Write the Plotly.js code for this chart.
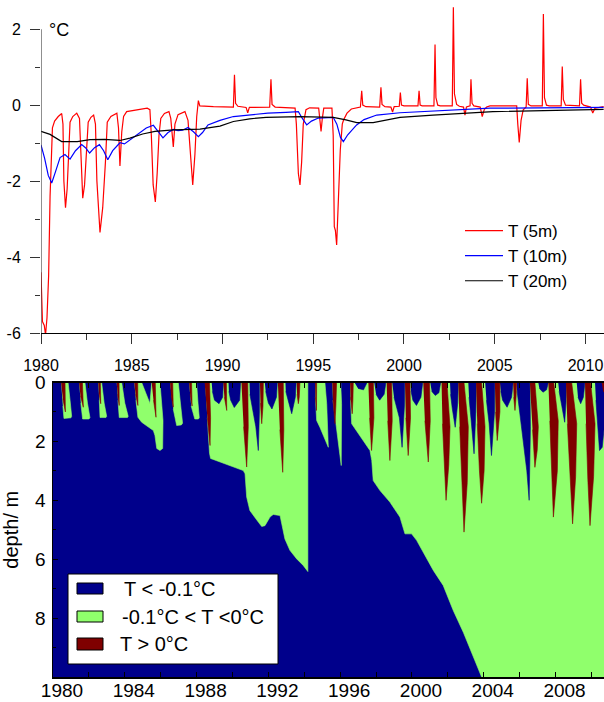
<!DOCTYPE html>
<html>
<head>
<meta charset="utf-8">
<script src="https://cdn.plot.ly/plotly-3.0.1.min.js"></script>
<style>html,body{margin:0;padding:0;background:#fff;}#chart{width:604px;height:702px;}</style>
</head>
<body>
<div id="chart"></div>
<script>
// ---------- top panel: temperature series (year, °C) ----------
const t5m = [
[1980.0,-4.4],[1980.08,-5.7],[1980.18,-5.8],[1980.25,-6.05],[1980.33,-5.6],[1980.42,-4.5],[1980.5,-2.4],[1980.57,-1.2],[1980.63,-0.6],[1980.75,-0.42],[1980.95,-0.3],[1981.14,-0.22],[1981.21,-0.5],[1981.26,-2.0],[1981.35,-2.7],[1981.44,-2.2],[1981.52,-1.2],[1981.6,-0.45],[1981.75,-0.3],[1981.97,-0.21],[1982.12,-0.35],[1982.2,-1.5],[1982.3,-2.45],[1982.4,-2.1],[1982.5,-1.2],[1982.6,-0.45],[1982.75,-0.32],[1982.9,-0.26],[1983.0,-0.5],[1983.08,-2.0],[1983.25,-3.35],[1983.4,-2.7],[1983.55,-1.5],[1983.65,-0.45],[1983.85,-0.3],[1984.18,-0.21],[1984.27,-0.6],[1984.35,-1.6],[1984.45,-0.7],[1984.55,-0.3],[1984.72,-0.17],[1985.3,-0.12],[1985.85,-0.08],[1986.0,-0.12],[1986.08,-0.8],[1986.18,-2.1],[1986.3,-2.55],[1986.4,-1.8],[1986.5,-0.8],[1986.6,-0.35],[1986.8,-0.22],[1987.05,-0.17],[1987.15,-0.35],[1987.29,-1.1],[1987.38,-0.5],[1987.55,-0.25],[1987.93,-0.17],[1988.1,-0.4],[1988.22,-1.2],[1988.36,-2.1],[1988.48,-1.3],[1988.58,-0.3],[1988.67,0.12],[1988.75,-0.02],[1989.5,-0.04],
[1990.6,-0.05],[1990.66,0.8],[1990.72,0.05],[1990.85,-0.03],[1991.3,-0.06],[1991.39,-0.2],[1991.48,-0.06],[1992.6,-0.05],[1992.67,0.68],[1992.73,0.02],[1992.9,-0.05],[1994.0,-0.08],[1994.07,-0.5],[1994.18,-1.8],[1994.27,-2.1],[1994.36,-1.5],[1994.45,-0.5],[1994.6,-0.12],[1994.8,-0.07],[1995.3,-0.08],[1995.38,-0.4],[1995.43,-0.69],[1995.5,-0.35],[1995.58,-0.08],[1996.03,-0.08],[1996.1,-0.8],[1996.16,-3.2],[1996.22,-3.3],[1996.29,-3.68],[1996.36,-2.6],[1996.49,-1.18],[1996.6,-0.5],[1996.67,-0.39],[1996.86,-0.21],[1997.1,-0.1],
[1997.6,-0.05],[1997.67,0.38],[1997.73,0.0],[1997.9,-0.04],[1998.66,-0.05],[1998.73,0.47],[1998.79,0.02],[1998.95,-0.04],[1999.28,-0.05],[1999.37,-0.18],[1999.46,-0.04],[1999.74,-0.03],[1999.8,0.33],[1999.86,0.0],[2000.0,-0.02],[2000.77,-0.02],[2000.83,0.38],[2000.89,0.0],[2001.0,-0.02],[2001.65,-0.02],[2001.71,1.6],[2001.76,0.2],[2001.86,0.0],[2002.0,-0.02],[2002.66,-0.02],[2002.72,2.58],[2002.78,0.3],[2002.9,0.02],[2003.05,-0.03],[2003.28,-0.05],[2003.36,-0.26],[2003.44,-0.05],[2003.64,-0.02],[2003.69,0.68],[2003.75,0.05],[2003.85,-0.02],[2004.2,-0.05],[2004.31,-0.3],[2004.42,-0.12],[2004.55,-0.05],[2004.74,-0.02],[2006.21,-0.02],[2006.27,-0.5],[2006.35,-0.98],[2006.45,-0.4],[2006.57,-0.12],[2006.73,-0.05],[2006.79,0.71],[2006.85,0.02],[2007.0,-0.02],[2007.62,-0.02],[2007.68,2.4],[2007.74,0.2],[2007.85,0.0],[2008.0,-0.02],[2008.66,-0.02],[2008.72,1.02],[2008.78,0.15],[2008.9,0.0],[2009.67,-0.02],[2009.73,0.68],[2009.79,0.05],[2009.9,0.0],[2010.28,-0.05],[2010.4,-0.21],[2010.52,-0.08],[2011.0,-0.04]
];
const t10m = [
[1980.0,-1.05],[1980.2,-1.4],[1980.4,-1.85],[1980.59,-2.05],[1980.8,-1.75],[1981.05,-1.38],[1981.32,-1.3],[1981.6,-1.42],[1981.9,-1.2],[1982.24,-1.04],[1982.45,-1.12],[1982.68,-1.26],[1982.95,-1.12],[1983.22,-1.04],[1983.45,-1.2],[1983.68,-1.44],[1983.95,-1.2],[1984.35,-0.99],[1984.6,-1.02],[1985.0,-0.88],[1985.45,-0.74],[1985.8,-0.6],[1986.19,-0.53],[1986.45,-0.7],[1986.72,-0.86],[1987.0,-0.72],[1987.29,-0.64],[1987.55,-0.67],[1987.8,-0.66],[1988.1,-0.59],[1988.4,-0.7],[1988.67,-0.83],[1988.9,-0.72],[1989.2,-0.52],[1989.86,-0.4],[1990.6,-0.3],[1991.5,-0.25],[1992.5,-0.21],[1993.5,-0.19],[1994.18,-0.17],[1994.4,-0.35],[1994.64,-0.52],[1994.9,-0.42],[1995.28,-0.34],[1996.1,-0.32],[1996.3,-0.5],[1996.5,-0.85],[1996.66,-0.96],[1996.9,-0.78],[1997.39,-0.52],[1997.8,-0.38],[1998.5,-0.26],[1999.78,-0.2],[2001.0,-0.17],[2002.5,-0.12],[2004.74,-0.08],[2011.0,-0.06]
];
const t20m = [
[1980.0,-0.69],[1980.5,-0.77],[1981.14,-0.96],[1982.0,-0.96],[1982.7,-0.91],[1983.5,-0.9],[1984.35,-0.93],[1984.9,-0.87],[1985.6,-0.76],[1986.28,-0.69],[1987.3,-0.65],[1988.76,-0.63],[1989.86,-0.55],[1990.6,-0.43],[1991.5,-0.36],[1992.4,-0.32],[1994.27,-0.3],[1996.1,-0.32],[1996.8,-0.39],[1997.4,-0.46],[1998.3,-0.46],[1999.78,-0.32],[2001.6,-0.26],[2004.9,-0.17],[2011.0,-0.11]
];
const seriesNames = ['T (5m)', 'T (10m)', 'T (20m)'];
const topTickVals = [-6, -4, -2, 0, 2];
const topTickText = ['-6', '-4', '-2', '0', '2'];
const topYearTicks = [1980, 1985, 1990, 1995, 2000, 2005, 2010];

// ---------- bottom panel: thermal zones, polygons of [year, depth m] ----------
const zoneNames = ['T < -0.1°C', '-0.1°C < T <0°C', 'T > 0°C'];
const greenZones = [
 [[1980.45,0],[1980.84,0],[1980.95,0.6],[1981.04,1.15],[1981.0,1.2],[1980.61,1.22],[1980.55,0.8]],
 [[1981.45,0],[1981.78,0],[1981.92,0.7],[1982.06,1.2],[1982.0,1.24],[1981.65,1.24],[1981.55,0.7]],
 [[1982.52,0],[1982.71,0],[1982.85,0.7],[1982.99,1.15],[1982.95,1.19],[1982.62,1.19],[1982.58,0.6]],
 [[1983.55,0],[1983.83,0],[1984.0,0.7],[1984.19,1.15],[1984.15,1.19],[1983.69,1.19],[1983.62,0.6]],
 [[1984.53,0],[1984.94,0],[1985.4,0.71],[1985.5,0],[1985.96,0],[1986.06,0.61],[1986.13,1.29],[1986.11,2.24],[1985.96,2.31],[1985.78,2.24],[1985.68,1.8],[1985.59,1.63],[1984.94,1.35],[1984.73,1.18],[1984.62,0.6]],
 [[1986.52,0],[1986.98,0],[1987.1,0.7],[1987.22,1.38],[1987.15,1.44],[1986.89,1.46],[1986.7,0.9]],
 [[1987.58,0],[1988.0,0],[1988.08,0.7],[1988.15,1.2],[1988.1,1.24],[1987.9,1.24],[1987.7,0.8]],
 [[1988.47,0],[1994.2,0],[1994.2,6.42],[1993.94,6.21],[1993.58,5.99],[1993.2,5.7],[1992.92,5.31],[1992.74,4.69],[1992.65,4.52],[1992.27,4.48],[1992.09,4.57],[1991.81,4.86],[1991.63,4.89],[1991.44,4.74],[1990.97,4.35],[1990.79,3.89],[1990.7,3.1],[1990.6,2.99],[1989.58,2.76],[1988.78,2.58],[1988.72,2.4],[1988.6,1.2]],
 [[1994.6,0],[1995.15,0],[1995.25,0.72],[1995.34,2.2],[1994.87,1.52],[1994.69,1.29],[1994.62,0.5]],
 [[1995.56,0],[1996.03,0],[1996.08,0.72],[1996.06,2.82],[1995.95,2.3],[1995.75,1.3],[1995.6,0.6]],
 [[1996.55,0],[2010.8,0],[2010.8,10.2],[2003.9,10.2],[2003.88,10],[2002.86,8.48],[2002.3,7.74],[2001.74,6.89],[2001.19,6.38],[2000.26,5.36],[1999.98,5.14],[1999.61,5.14],[1999.33,4.57],[1998.77,4.06],[1998.22,3.67],[1997.84,3.33],[1997.76,2.65],[1997.66,2.31],[1996.64,1.4],[1996.58,0.6]]
];
const coldPatches = [
 [[1988.84,0],[1989.49,0],[1989.45,0.5],[1989.25,0.72],[1989.0,0.6],[1988.88,0.3]],
 [[1989.78,0],[1990.45,0],[1990.4,0.6],[1990.1,0.85],[1989.9,0.6],[1989.8,0.3]],
 [[1990.95,0],[1991.5,0],[1991.5,1.0],[1991.44,2.31],[1991.3,1.5],[1991.1,0.9],[1990.97,0.4]],
 [[1991.8,0],[1992.5,0],[1992.45,0.5],[1992.2,0.9],[1992.0,0.7],[1991.85,0.3]],
 [[1992.95,0],[1993.55,0],[1993.5,0.5],[1993.3,1.06],[1993.1,0.6],[1992.97,0.3]],
 [[1996.8,0],[1997.5,0],[1997.3,0.25],[1997.0,0.2]],
 [[1997.9,0],[1998.55,0],[1998.45,0.4],[1998.2,0.6],[1998.0,0.4]],
 [[1998.9,0],[1999.6,0],[1999.58,0.8],[1999.45,2.2],[1999.3,1.2],[1999.0,0.5]],
 [[1999.92,0],[2000.6,0],[2000.5,0.5],[2000.25,0.78],[2000.05,0.6],[1999.95,0.3]],
 [[2001.02,0],[2001.6,0],[2001.5,0.35],[2001.3,0.44],[2001.1,0.3]],
 [[2002.12,0],[2002.58,0],[2002.55,0.7],[2002.41,1.52],[2002.25,0.9],[2002.15,0.4]],
 [[2003.14,0],[2003.58,0],[2003.56,1.0],[2003.46,2.42],[2003.3,1.3],[2003.18,0.5]],
 [[2004.08,0],[2004.62,0],[2004.6,1.0],[2004.43,2.48],[2004.3,1.4],[2004.15,0.6]],
 [[2004.9,0],[2005.64,0],[2005.55,0.5],[2005.3,0.84],[2005.05,0.6],[2004.95,0.3]],
 [[2005.83,0],[2006.57,0],[2006.6,1.5],[2006.55,3.3],[2006.53,4.0],[2006.4,3.0],[2006.2,2.0],[2005.95,0.9],[2005.86,0.3]],
 [[2007.04,0],[2007.6,0],[2007.5,0.25],[2007.3,0.33],[2007.1,0.2]],
 [[2008.15,0],[2008.6,0],[2008.58,0.7],[2008.51,1.35],[2008.35,0.8],[2008.2,0.3]],
 [[2009.18,0],[2009.64,0],[2009.55,0.5],[2009.4,0.72],[2009.25,0.5]],
 [[2010.2,0],[2010.8,0],[2010.8,1.0],[2010.6,2.2],[2010.45,2.31],[2010.35,1.5],[2010.25,0.6]]
];
const warmTongues = [
 [[1980.45,0],[1980.67,0],[1980.69,1.0],[1980.55,0.55]],
 [[1981.45,0],[1981.64,0],[1981.69,0.84],[1981.53,0.45]],
 [[1982.52,0],[1982.64,0],[1982.66,0.72],[1982.56,0.35]],
 [[1983.55,0],[1983.68,0],[1983.69,0.78],[1983.6,0.4]],
 [[1984.53,0],[1984.72,0],[1984.73,0.78],[1984.6,0.4]],
 [[1985.5,0],[1985.7,0],[1985.74,1.18],[1985.6,0.6]],
 [[1986.52,0],[1986.67,0],[1986.7,0.84],[1986.58,0.45]],
 [[1987.58,0],[1987.72,0],[1987.75,0.8],[1987.64,0.4]],
 [[1988.45,0],[1988.72,0],[1988.78,1.2],[1988.75,2.14],[1988.6,1.2]],
 [[1989.49,0],[1989.66,0],[1989.68,0.95],[1989.55,0.5]],
 [[1990.5,0],[1990.85,0],[1990.88,1.5],[1990.79,2.87],[1990.62,1.5]],
 [[1991.53,0],[1991.72,0],[1991.7,0.8],[1991.63,1.4],[1991.56,0.7]],
 [[1992.53,0],[1992.83,0],[1992.86,1.6],[1992.8,3.05],[1992.64,1.6]],
 [[1993.58,0],[1993.76,0],[1993.72,0.5],[1993.67,0.72],[1993.6,0.4]],
 [[1994.6,0],[1994.69,0],[1994.68,0.95],[1994.62,0.5]],
 [[1995.56,0],[1995.8,0],[1995.76,0.8],[1995.71,1.4],[1995.6,0.6]],
 [[1996.55,0],[1996.73,0],[1996.71,0.6],[1996.67,1.06],[1996.58,0.5]],
 [[1997.57,0],[1997.85,0],[1997.88,1.2],[1997.75,2.31],[1997.64,1.2]],
 [[1998.59,0],[1998.87,0],[1998.9,1.3],[1998.77,2.65],[1998.65,1.3]],
 [[1999.61,0],[1999.89,0],[1999.92,1.2],[1999.79,2.48],[1999.66,1.2]],
 [[2000.63,0],[2000.98,0],[2001.02,1.3],[2000.91,2.7],[2000.72,1.3]],
 [[2001.65,0],[2001.95,0],[2002.12,1.5],[2002.05,2.8],[2001.9,4.0],[2001.8,2.6],[2001.7,1.4]],
 [[2002.58,0],[2002.9,0],[2003.14,1.5],[2003.08,3.4],[2002.9,5.08],[2002.8,3.4],[2002.66,1.5]],
 [[2003.57,0],[2003.88,0],[2004.07,1.5],[2004.02,3.0],[2003.88,4.1],[2003.76,3.0],[2003.64,1.4]],
 [[2004.62,0],[2004.9,0],[2004.9,1.0],[2004.75,1.97],[2004.66,1.0]],
 [[2005.64,0],[2005.83,0],[2005.8,0.5],[2005.74,0.95],[2005.67,0.5]],
 [[2006.57,0],[2006.85,0],[2007.04,1.5],[2006.98,2.3],[2006.85,2.88],[2006.72,1.6]],
 [[2007.6,0],[2007.9,0],[2008.15,1.3],[2008.1,3.0],[2007.88,4.57],[2007.78,3.0],[2007.68,1.3]],
 [[2008.58,0],[2008.9,0],[2009.18,1.4],[2009.12,3.2],[2008.95,4.8],[2008.82,3.3],[2008.66,1.4]],
 [[2009.64,0],[2009.95,0],[2010.2,1.4],[2010.12,3.2],[2009.92,4.86],[2009.8,3.3],[2009.7,1.4]],
 [[2010.57,0],[2010.8,0],[2010.8,0.35],[2010.65,0.3]]
];
const depthTicks = [0, 2, 4, 6, 8];
const bottomYearTicks = [1980,1982,1984,1986,1988,1990,1992,1994,1996,1998,2000,2002,2004,2006,2008,2010];
const bottomYearLabels = ['1980','','1984','','1988','','1992','','1996','','2000','','2004','','2008',''];

// ---------- styling ----------
const FONT = 'Arial, "Liberation Sans", sans-serif';
const C_NAVY = '#00008b', C_GREEN = '#90ff6c', C_RED = '#7f0000';
const W = 604, H = 702, ML = 41;
const px = v => (v - ML) / (W - ML);     // pixel x -> paper x
const py = v => 1 - v / H;               // pixel y -> paper y

function polyXY(polys) {
  const x = [], y = [];
  polys.forEach((p, i) => {
    if (i) { x.push(null); y.push(null); }
    p.forEach(q => { x.push(q[0]); y.push(q[1]); });
  });
  return {x, y};
}
function lineTrace(data, name, color) {
  return {type: 'scatter', mode: 'lines', name: name,
    x: data.map(d => d[0]), y: data.map(d => d[1]),
    line: {color: color, width: 1.2}, xaxis: 'x', yaxis: 'y', hoverinfo: 'x+y'};
}
function zoneTrace(polys, name, color) {
  const xy = polyXY(polys);
  return {type: 'scatter', mode: 'lines', fill: 'toself', name: name,
    x: xy.x, y: xy.y, fillcolor: color, line: {color: color, width: 0.6},
    xaxis: 'x2', yaxis: 'y2', showlegend: false, hoverinfo: 'skip'};
}

const traces = [
  lineTrace(t5m, seriesNames[0], '#ff0000'),
  lineTrace(t10m, seriesNames[1], '#0000ff'),
  lineTrace(t20m, seriesNames[2], '#000000'),
  zoneTrace(greenZones, zoneNames[1], C_GREEN),
  zoneTrace(coldPatches, zoneNames[0], C_NAVY),
  zoneTrace(warmTongues, zoneNames[2], C_RED)
];

const legendRows = [[583, 594, C_NAVY, 122, 589], [611, 622, C_GREEN, 120, 616.5], [638, 650, C_RED, 118, 644]];
const shapes = [
  {type: 'rect', xref: 'x2 domain', yref: 'y2 domain', x0: 0, x1: 1, y0: 0, y1: 1,
   fillcolor: C_NAVY, line: {width: 0}, layer: 'below'},
  {type: 'line', xref: 'x', yref: 'y', x0: 1980, x1: 1980, y0: -6, y1: 2,
   line: {color: '#444', width: 1.2}},
  {type: 'rect', xref: 'paper', yref: 'paper', x0: px(68), x1: px(278), y0: py(664), y1: py(574),
   fillcolor: '#ffffff', line: {color: '#000', width: 1}}
];
const annotations = [
  {xref: 'paper', yref: 'paper', x: px(47), y: py(30), xanchor: 'left', yanchor: 'middle',
   text: '°C', showarrow: false, font: {family: FONT, size: 18, color: '#000'}}
];
legendRows.forEach((r, i) => {
  shapes.push({type: 'rect', xref: 'paper', yref: 'paper', x0: px(77), x1: px(103),
    y0: py(r[1]), y1: py(r[0]), fillcolor: r[2], line: {color: '#000', width: 1}});
  annotations.push({xref: 'paper', yref: 'paper', x: px(r[3]), y: py(r[4]), xanchor: 'left',
    yanchor: 'middle', text: zoneNames[i], showarrow: false, font: {family: FONT, size: 20, color: '#000'}});
});

const layout = {
  width: W, height: H,
  margin: {l: ML, r: 0, t: 0, b: 0},
  paper_bgcolor: '#fff', plot_bgcolor: 'rgba(0,0,0,0)',
  font: {family: FONT, color: '#000'},
  showlegend: true,
  legend: {x: px(460), y: py(213), xanchor: 'left', yanchor: 'top', bgcolor: 'rgba(0,0,0,0)',
    itemwidth: 38, font: {family: FONT, size: 17, color: '#000'}},
  xaxis: {domain: [0, 1], anchor: 'y', range: [1980, 2011.02], showgrid: false, zeroline: false,
    showline: true, linecolor: '#000', linewidth: 1,
    tickmode: 'array', tickvals: topYearTicks, ticks: 'outside', ticklen: 10, tickcolor: '#333', tickwidth: 1,
    minor: {tick0: 1980, dtick: 2.5, ticks: 'outside', ticklen: 6, tickcolor: '#333', showgrid: false},
    tickfont: {family: FONT, size: 16}, ticklabelstandoff: 8},
  yaxis: {domain: [py(333), py(3)], anchor: 'x', range: [-6, 2.69], showgrid: false, zeroline: false,
    showline: false, tickmode: 'array', tickvals: topTickVals, ticktext: topTickText,
    ticks: 'outside', ticklen: 10, tickcolor: '#333',
    minor: {tick0: 0, dtick: 1, ticks: 'outside', ticklen: 5, tickcolor: '#333', showgrid: false},
    tickfont: {family: FONT, size: 16}, ticklabelstandoff: 6},
  xaxis2: {domain: [px(53), 1], anchor: 'y2', range: [1980, 2010.7], showgrid: false, zeroline: false,
    showline: true, linecolor: '#000', linewidth: 1.5, mirror: 'ticks',
    tickmode: 'array', tickvals: bottomYearTicks, ticktext: bottomYearLabels,
    ticks: 'inside', ticklen: 5, tickcolor: '#000',
    tickfont: {family: FONT, size: 19}, ticklabelshift: 9, ticklabelstandoff: -4},
  yaxis2: {domain: [py(677), py(382.5)], anchor: 'x2', range: [10, 0], showgrid: false, zeroline: false,
    showline: true, linecolor: '#000', linewidth: 1.5,
    tickmode: 'array', tickvals: depthTicks, ticks: 'inside', ticklen: 5, tickcolor: '#000',
    minor: {tick0: 1, dtick: 2, ticks: 'inside', ticklen: 3, tickcolor: '#000', showgrid: false},
    tickfont: {family: FONT, size: 19}, ticklabelstandoff: 2,
    title: {text: 'depth/ m', font: {family: FONT, size: 20}}},
  shapes: shapes,
  annotations: annotations
};

Plotly.newPlot('chart', traces, layout, {staticPlot: true, displayModeBar: false});
</script>
</body>
</html>
